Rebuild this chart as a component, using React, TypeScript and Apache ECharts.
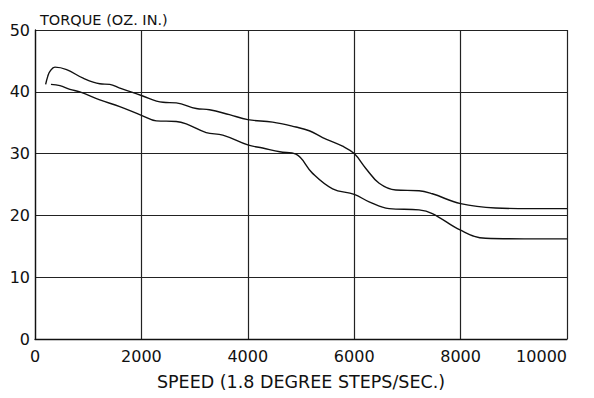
import React, { useEffect, useRef } from "react";
import * as echarts from "echarts";

const upperSpeed = [200, 240, 281, 375, 594, 905, 1218, 1405, 1593, 2000, 2405, 2655, 3030, 3280, 3655, 4000, 4467, 4905, 5155, 5406, 5781, 6000, 6219, 6469, 6781, 7219, 7469, 8000, 8656, 9300, 10000];
const upperTorque = [41.2, 42.5, 43.3, 44.0, 43.6, 42.2, 41.3, 41.2, 40.6, 39.4, 38.3, 38.2, 37.3, 37.1, 36.3, 35.5, 35.1, 34.3, 33.7, 32.6, 31.2, 30.0, 27.6, 25.2, 24.1, 24.0, 23.5, 21.9, 21.2, 21.1, 21.1];

const lowerSpeed = [300, 468, 656, 843, 1218, 1593, 2000, 2281, 2655, 2843, 3218, 3530, 4000, 4280, 4600, 4905, 5218, 5594, 6000, 6281, 6656, 7219, 7469, 8000, 8469, 9200, 10000];
const lowerTorque = [41.2, 41.0, 40.4, 40.0, 38.7, 37.6, 36.2, 35.3, 35.2, 34.8, 33.4, 33.0, 31.4, 30.9, 30.3, 29.9, 26.8, 24.3, 23.4, 22.2, 21.1, 20.9, 20.3, 17.6, 16.3, 16.2, 16.2];

const xTicks = [0, 2000, 4000, 6000, 8000, 10000];
const yTicks = [0, 10, 20, 30, 40, 50];

const FONT = "DejaVu Sans";

export default function App() {
  const ref = useRef<HTMLDivElement>(null);
  useEffect(() => {
    if (!ref.current) return;
    const chart = echarts.init(ref.current, undefined, { renderer: "svg" });
    const upper = upperSpeed.map((s, i) => [s, upperTorque[i]]);
    const lower = lowerSpeed.map((s, i) => [s, lowerTorque[i]]);
    chart.setOption({
      animation: false,
      backgroundColor: "#ffffff",
      title: {
        text: "TORQUE (OZ. IN.)",
        left: 35,
        top: 7,
        textStyle: { fontFamily: FONT, fontSize: 14.5, fontWeight: "normal", color: "#111" },
      },
      grid: { left: 35, right: 27, top: 30, bottom: 59 },
      xAxis: {
        type: "value",
        min: xTicks[0],
        max: xTicks[xTicks.length - 1],
        interval: 2000,
        name: "SPEED (1.8 DEGREE STEPS/SEC.)",
        nameLocation: "middle",
        nameGap: 34,
        nameTextStyle: { fontFamily: FONT, fontSize: 17.5, color: "#111" },
        axisLine: { show: true, lineStyle: { color: "#111", width: 1.3 } },
        axisTick: { show: false },
        axisLabel: {
          fontFamily: FONT,
          fontSize: 16,
          color: "#111",
          margin: 9,
          alignMaxLabel: "right",
          formatter: (v: number) => String(v),
        },
        splitLine: { show: true, lineStyle: { color: "#222", width: 1.2 } },
      },
      yAxis: {
        type: "value",
        min: yTicks[0],
        max: yTicks[yTicks.length - 1],
        interval: 10,
        axisLine: { show: true, lineStyle: { color: "#111", width: 1.3 } },
        axisTick: { show: false },
        axisLabel: { fontFamily: FONT, fontSize: 16, color: "#111", margin: 5 },
        splitLine: { show: true, lineStyle: { color: "#222", width: 1.2 } },
      },
      series: [
        {
          type: "line",
          data: upper,
          smooth: 0.4,
          symbol: "none",
          lineStyle: { color: "#111", width: 1.4 },
        },
        {
          type: "line",
          data: lower,
          smooth: 0.4,
          symbol: "none",
          lineStyle: { color: "#111", width: 1.4 },
        },
      ],
    });
    return () => chart.dispose();
  }, []);
  return <div ref={ref} style={{ width: 594, height: 398, margin: -8 }} />;
}
